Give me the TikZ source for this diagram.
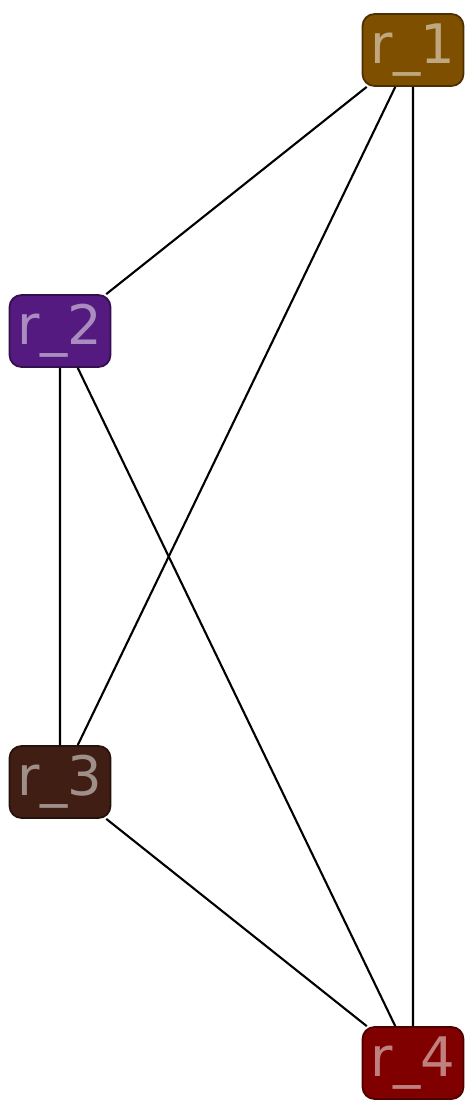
\documentclass[tikz,border=0pt]{standalone}
\usepackage{fontspec}
\setmainfont{DejaVu Sans}
\definecolor{rone}{HTML}{7F4F00}
\definecolor{rtwo}{HTML}{551A80}
\definecolor{rthree}{HTML}{401E14}
\definecolor{rfour}{HTML}{800000}
\tikzset{
    rnode/.style={rectangle,rounded corners=0.24cm,draw=#1!60!black,fill=#1,
        text=#1!50!white,line width=1pt,minimum width=2.02cm,minimum height=1.44cm,
        inner sep=0pt,font=\fontsize{31}{33}\selectfont},
    redge/.style={line width=1.2pt}
}
\begin{document}
\begin{tikzpicture}[x=0.02cm,y=-0.02cm]
    \useasboundingbox (0,0) rectangle (476,1111);
    % nodes
    \node[rnode=rone] (r1) at (413,50) {r\_1};
    \node[rnode=rtwo] (r2) at (60,331) {r\_2};
    \node[rnode=rthree] (r3) at (60,782) {r\_3};
    \node[rnode=rfour] (r4) at (413,1063) {r\_4};

    % edges
    \draw[redge] (r1)--(r2) (r1)--(r3) (r1)--(r4);
    \draw[redge] (r2)--(r3) (r2)--(r4) (r3)--(r4);
\end{tikzpicture}
\end{document}
